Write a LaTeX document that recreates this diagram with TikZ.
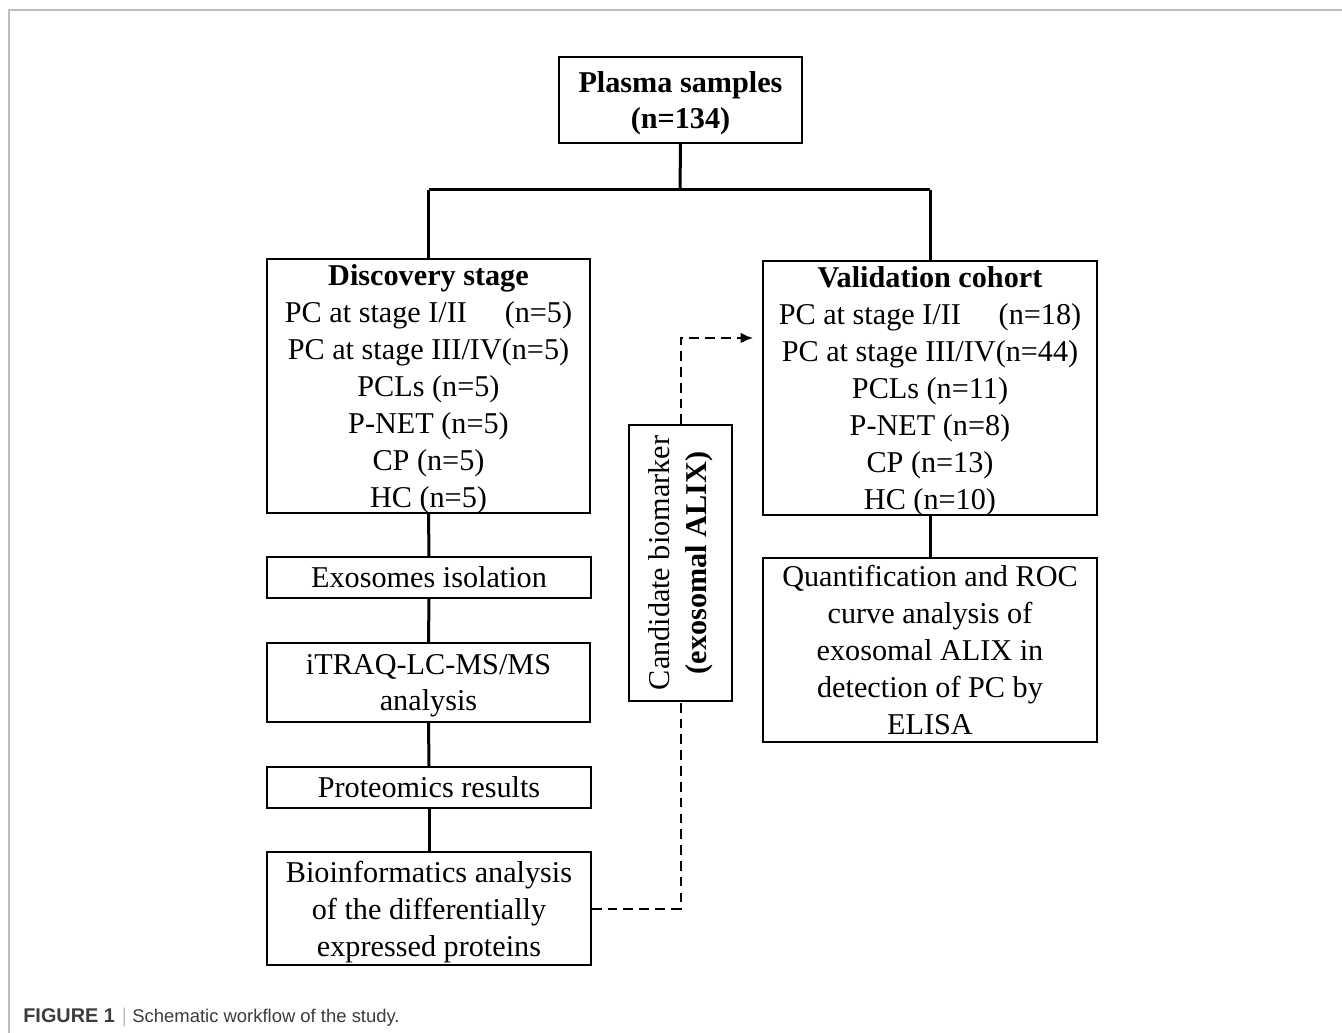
\documentclass[tikz,border=0pt]{standalone}
\usepackage{fontspec}
\setmainfont{Liberation Serif}
\newfontfamily\capfont{Liberation Sans}
\usetikzlibrary{arrows.meta}
\definecolor{framegray}{RGB}{190,190,190}
\definecolor{capgray}{RGB}{60,60,60}
\tikzset{
  box/.style={draw,line width=0.035cm,align=center,inner sep=1pt,
    font=\fontsize{17.2}{21}\selectfont},
  multibox/.style={box,text depth=-1pt},
  link/.style={line width=0.06cm},
  dashlink/.style={line width=0.04cm,dash pattern=on 5.5pt off 3.5pt}
}
\begin{document}
\begin{tikzpicture}[x=0.02cm,y=-0.02cm]
\useasboundingbox (0,0) rectangle (1342,1033);
\draw[framegray,line width=0.04cm] (9,1033)-- (9,10)-- (1342,10);
% top of the workflow
\node[multibox,minimum width=4.86cm,minimum height=1.72cm] (plasma) at (680.5,100) {\textbf{Plasma samples}\\\textbf{(n=134)}};
\node[multibox,minimum width=6.46cm,minimum height=5.08cm] (disc) at (428.5,386) {\textbf{Discovery stage}\\PC at stage I/II\hspace{1em} (n=5)\\PC at stage III/IV(n=5)\\PCLs (n=5)\\P-NET (n=5)\\CP (n=5)\\HC (n=5)};
\node[multibox,minimum width=6.68cm,minimum height=5.08cm] (valid) at (930,388) {\textbf{Validation cohort}\\PC at stage I/II\hspace{1em} (n=18)\\PC at stage III/IV(n=44)\\PCLs (n=11)\\P-NET (n=8)\\CP (n=13)\\HC (n=10)};
\coordinate (split) at (680,190);
\draw[link] (plasma.south)-- (split);
\draw[link] (disc.north |- split)-- (valid.north |- split);
\draw[link] (disc.north |- split)-- (disc.north);
\draw[link] (valid.north |- split)-- (valid.north);
% left column
\node[box,minimum width=6.48cm,minimum height=0.82cm] (exo) at (429,577.5) {Exosomes isolation};
\node[multibox,minimum width=6.46cm,minimum height=1.58cm] (itraq) at (428.5,682.5) {iTRAQ-LC-MS/MS\\analysis};
\node[box,minimum width=6.48cm,minimum height=0.82cm] (prot) at (429,787.5) {Proteomics results};
\node[multibox,minimum width=6.48cm,minimum height=2.26cm] (bio) at (429,908.5) {Bioinformatics analysis\\of the differentially\\expressed proteins};
\draw[link] (disc.south)-- (exo.north);
\draw[link] (exo.south)-- (itraq.north);
\draw[link] (itraq.south)-- (prot.north);
\draw[link] (prot.south)-- (bio.north);
% right column
\node[multibox,minimum width=6.68cm,minimum height=3.68cm] (quant) at (930,650) {Quantification and ROC\\curve analysis of\\exosomal ALIX in\\detection of PC by\\ELISA};
\draw[link] (valid.south)-- (quant.north);
% candidate biomarker
\node[box,rotate=90,minimum width=5.52cm,minimum height=2.06cm] (cand) at (680.5,563) {Candidate biomarker\\\textbf{(exosomal ALIX)}};
\coordinate (arrowend) at (753,338);
\draw[dashlink] (bio.east) -| (cand.west);
\draw[dashlink,-{Latex[length=7pt,width=6pt]}] (cand.east) |- (arrowend);
% caption
\node[anchor=west,inner sep=0pt,text=capgray,font=\capfont\fontsize{11.3}{13}\selectfont] (cap) at (23,1017) {\textbf{FIGURE 1}\hspace{4pt}{\color{framegray}|}\hspace{3pt}{\fontsize{10.5}{13}\selectfont Schematic workflow of the study.}};
\end{tikzpicture}
\end{document}
